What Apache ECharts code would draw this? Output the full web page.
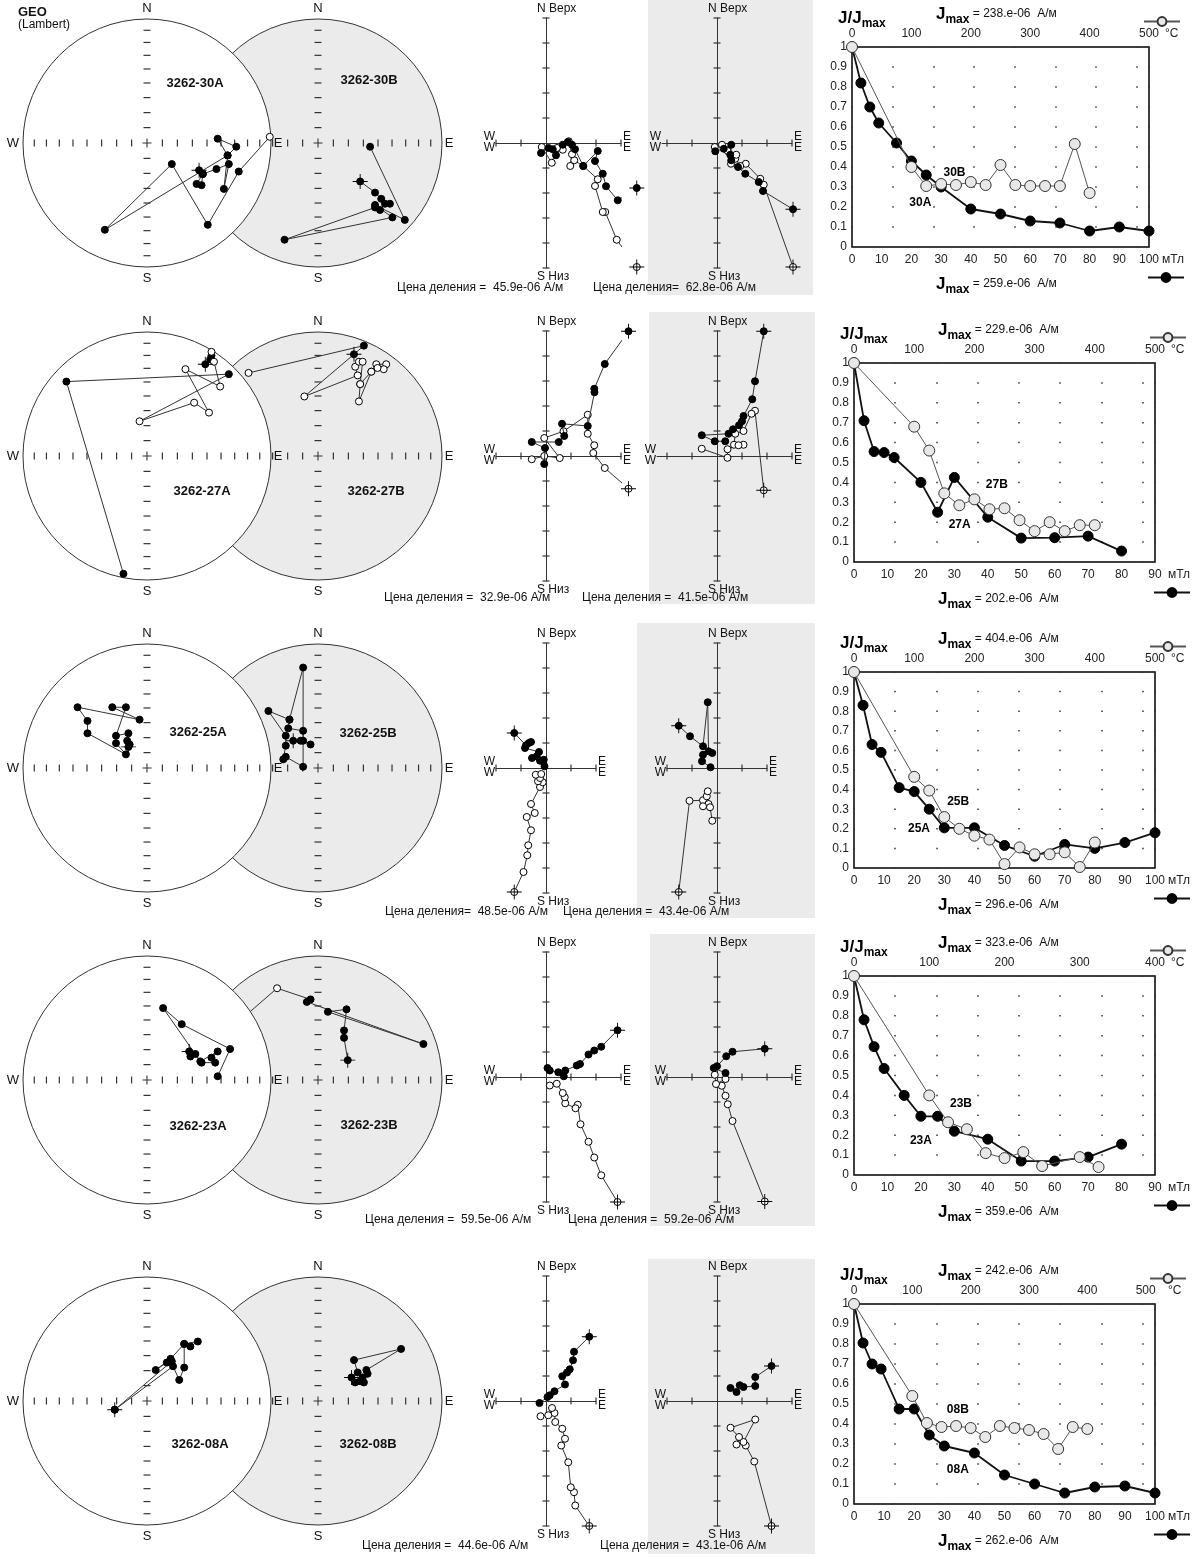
<!DOCTYPE html>
<html>
<head>
<meta charset="utf-8">
<script src="https://cdn.jsdelivr.net/npm/echarts@6/dist/echarts.min.js"></script>
<style>
  html, body { margin: 0; padding: 0; background: #fff; }
  #chart { width: 1192px; height: 1557px; }
</style>
</head>
<body>
<div id="chart"></div>
<script>
// ---------- стереограммы (GEO, Lambert): [x, y, верхняя полусфера, NRM] ----------
const st30A = [[0.42,-0.22,0,1],[0.45,-0.25,0],[0.40,-0.33,0],[0.44,-0.34,0],[0.45,-0.25,0],[0.56,-0.21,0],[0.66,-0.17,0],[0.62,-0.37,0],[0.65,-0.10,0],[0.72,-0.03,0],[0.57,0.035,0],[0.65,-0.10,0],[-0.34,-0.70,0],[0.20,-0.17,0],[0.49,-0.66,0],[0.74,-0.23,0],[0.99,0.05,1]];
const st30B = [[0.34,-0.31,0,1],[0.46,-0.40,0],[0.51,-0.45,0],[0.58,-0.49,0],[0.54,-0.49,0],[0.50,-0.54,0],[0.46,-0.52,0],[-0.27,-0.78,0],[0.60,-0.60,0],[0.46,-0.50,0],[0.70,-0.62,0],[0.42,-0.03,0]];
const st27A = [[0.47,0.74,0,1],[0.51,0.78,0],[0.52,0.81,0],[0.52,0.84,1],[0.54,0.76,1],[0.59,0.56,1],[0.31,0.70,1],[0.50,0.35,1],[0.38,0.43,1],[-0.06,0.28,1],[0.66,0.66,0],[-0.65,0.60,0],[-0.19,-0.95,0]];
const st27B = [[-0.56,0.67,1],[0.37,0.89,0],[0.29,0.82,0,1],[-0.11,0.48,1],[0.32,0.65,1],[0.30,0.72,1],[0.33,0.76,1],[0.36,0.76,1],[0.34,0.58,1],[0.43,0.68,1],[0.47,0.74,1],[0.55,0.74,1],[0.53,0.70,1],[0.48,0.71,1],[0.43,0.68,1],[0.33,0.44,1],[0.34,0.58,1]];
const st25A = [[-0.15,0.17,0,1],[-0.14,0.19,0],[-0.16,0.22,0],[-0.15,0.28,0],[-0.25,0.26,0],[-0.17,0.49,0],[-0.28,0.49,0],[-0.06,0.39,0],[-0.56,0.49,0],[-0.48,0.38,0],[-0.48,0.28,0],[-0.17,0.11,0],[-0.25,0.20,0]];
const st25B = [[-0.20,0.22,0,1],[-0.14,0.22,0],[-0.06,0.19,0],[-0.12,0.22,0],[-0.12,0.30,0],[-0.24,0.32,0],[-0.23,0.39,0],[-0.12,0.81,0],[-0.12,0.01,0],[-0.26,0.09,0],[-0.28,0.07,0],[-0.26,0.18,0],[-0.26,0.26,0],[-0.40,0.46,0],[-0.23,0.39,0]];
const st23A = [[0.34,0.23,0,1],[0.35,0.19,0],[0.39,0.21,0],[0.44,0.14,0],[0.55,0.14,0],[0.52,0.18,0],[0.57,0.23,0],[0.43,0.15,0],[0.13,0.58,0],[0.28,0.45,0],[0.67,0.25,0],[0.57,0.03,0]];
const st23B = [[0.24,0.16,0,1],[0.21,0.34,0],[0.21,0.40,0],[0.23,0.57,0],[0.08,0.55,0],[0.85,0.29,0],[-0.09,0.63,0],[-0.06,0.65,0],[-0.33,0.74,1],[-0.71,0.41,1]];
const st08A = [[-0.26,-0.07,0,1],[0.20,0.32,0],[0.16,0.31,0],[0.07,0.25,0],[0.19,0.34,0],[0.30,0.46,0],[0.35,0.44,0],[0.41,0.48,0],[0.30,0.46,0],[0.30,0.27,0],[0.26,0.17,0],[0.21,0.28,0],[-0.26,-0.07,0]];
const st08B = [[0.27,0.19,0,1],[0.30,0.15,0],[0.34,0.16,0],[0.37,0.15,0],[0.36,0.19,0],[0.32,0.23,0],[0.29,0.33,0],[0.67,0.42,0],[0.39,0.25,0],[0.40,0.22,0]];
const sampleNames = [['3262-30A','3262-30B'],['3262-27A','3262-27B'],['3262-25A','3262-25B'],['3262-23A','3262-23B'],['3262-08A','3262-08B']];
const lambertTicks = [0.124, 0.245, 0.366, 0.484, 0.597, 0.707, 0.811, 0.909];

// ---------- диаграммы Зийдервельда (в делениях шкалы); первая точка — NRM ----------
const zij30A_h = [[3.63,-1.8],[2.87,-2.29],[2.4,-1.73],[2.27,-1.23],[1.96,-0.72],[2.07,-0.32],[1.49,-0.92],[1.16,-0.25],[1.04,-0.07],[0.87,0.04],[0.67,-0.07],[0.4,-0.49],[0.27,-0.25],[0.1,-0.2],[-0.2,-0.4]];
const zij30A_v = [[3.63,-4.96],[2.83,-3.87],[2.37,-2.76],[2.27,-2.76],[1.96,-1.72],[2.07,-1.45],[1.49,-0.92],[1.13,-0.69],[0.97,-0.92],[1.04,-0.45],[0.91,0.07],[0.67,-0.27],[0.44,-0.2],[0.23,-0.79],[-0.17,-0.16]];
const zij30B_h = [[3.04,-2.65],[1.84,-1.92],[1.67,-1.56],[1.13,-1.23],[0.84,-0.96],[0.57,-0.69],[0.53,-0.47],[0.57,-0.07],[0.27,-0.23],[-0.07,-0.33]];
const zij30B_v = [[3.04,-4.96],[1.87,-1.67],[1.73,-1.43],[1.15,-0.83],[0.93,-0.92],[0.73,-0.63],[0.56,-0.83],[0.77,-0.47],[0.43,-0.32],[0.2,-0.07],[-0.09,-0.16]];
const zij27A_h = [[3.30,4.99],[2.35,3.68],[1.93,2.69],[1.94,2.55],[1.67,1.2],[0.64,1.29],[0.73,0.8],[0.51,0.56],[-0.57,0.56],[-0.04,0.32],[-0.07,-0.32]];
const zij27A_v = [[3.30,-1.31],[2.35,-0.48],[1.89,0.12],[1.93,0.43],[1.67,0.89],[1.67,1.65],[0.7,0.99],[-0.07,0.72],[0.55,-0.08],[-0.07,0],[-0.57,-0.13]];
const zij27B_h = [[1.87,4.99],[1.52,2.99],[1.41,2.27],[1.06,1.6],[1.0,1.39],[0.88,1.23],[0.64,1.07],[0.46,0.89],[-0.61,0.83],[-0.09,0.59],[0.33,0.59]];
const zij27B_v = [[1.87,-1.37],[1.52,1.81],[1.38,1.69],[1.06,1.0],[0.73,0.89],[0.68,0.45],[1.06,0.45],[0.86,0.43],[0.42,0.27],[0.42,-0.07],[-0.61,0.29]];
const zij25A_h = [[-1.27,1.4],[-0.80,0.91],[-0.69,1.0],[-0.6,1.04],[-0.84,0.8],[-0.28,0.64],[-0.56,0.4],[-0.37,0.47],[-0.24,0.29],[-0.09,0.33],[-0.06,0.07]];
const zij25A_v = [[-1.27,-4.96],[-0.9,-4.16],[-0.75,-3.49],[-0.71,-3.09],[-0.6,-2.49],[-0.77,-1.96],[-0.45,-1.8],[-0.6,-1.44],[-0.24,-0.76],[-0.13,-0.57],[-0.32,-0.53],[-0.24,-0.4],[-0.41,-0.27],[-0.19,-0.24]];
const zij25B_h = [[-1.53,1.69],[-1.08,1.27],[-0.56,0.87],[-0.37,2.63],[-0.34,0.67],[-0.19,0.6],[-0.56,0.53],[-0.6,0.27],[-0.26,0.03]];
const zij25B_v = [[-1.53,-4.96],[-1.10,-1.31],[-0.56,-1.29],[-0.41,-1.13],[-0.37,-0.93],[-0.34,-1.44],[-0.56,-1.53],[-0.28,-1.57],[-0.19,-2.11]];
const zij23A_h = [[2.86,1.87],[2.21,1.21],[1.93,1.06],[1.70,0.90],[1.36,0.52],[1.23,0.46],[0.77,0.26],[0.71,0.03],[0.49,0.19],[0.15,0.26],[0.06,0.36]];
const zij23A_v = [[2.86,-5.0],[2.21,-3.93],[1.93,-3.22],[1.70,-2.59],[1.38,-1.89],[1.27,-1.11],[1.18,-1.25],[0.77,-1.05],[0.75,-0.81],[0.67,-0.64],[0.43,-0.27],[0.15,-0.34]];
const zij23B_h = [[1.91,1.13],[0.62,1.01],[0.37,0.83],[0.0,0.43],[-0.13,0.36],[0.34,0.16]];
const zij23B_v = [[1.91,-4.98],[0.62,-1.76],[0.43,-1.09],[0.34,-0.75],[0.19,-0.35],[0.34,-0.08],[-0.04,-0.28],[-0.09,0.09]];
const zij08A_h = [[1.73,2.57],[1.12,1.97],[1.08,1.63],[0.95,1.27],[0.84,1.14],[0.65,0.99],[0.76,0.66],[0.34,0.39],[0.15,0.23],[0.06,0.16],[-0.26,-0.08]];
const zij08A_v = [[1.73,-5.0],[1.17,-4.18],[1.12,-3.65],[0.99,-3.45],[0.89,-2.45],[0.61,-1.78],[0.76,-1.51],[0.65,-1.11],[0.37,-0.84],[0.34,-0.48],[0.24,-0.28],[0.09,-0.57],[-0.22,-0.61]];
const zij08B_h = [[2.18,1.40],[1.53,0.96],[1.53,0.60],[1.06,0.56],[0.91,0.63],[0.78,0.36],[0.54,0.52]];
const zij08B_v = [[2.18,-5.0],[1.49,-2.42],[1.15,-1.78],[1.06,-1.64],[1.53,-0.74],[0.54,-1.07],[0.88,-1.44],[0.78,-1.74]];
const zijDivs = [-5, -4, -3, -2, -1, 1, 2, 3, 4, 5];
const scaleTexts = [
  ['Цена деления =  45.9e-06 А/м', 'Цена деления=  62.8e-06 А/м'],
  ['Цена деления =  32.9e-06 А/м', 'Цена деления =  41.5e-06 А/м'],
  ['Цена деления=  48.5e-06 А/м', 'Цена деления =  43.4e-06 А/м'],
  ['Цена деления =  59.5e-06 А/м', 'Цена деления =  59.2e-06 А/м'],
  ['Цена деления =  44.6e-06 А/м', 'Цена деления =  43.1e-06 А/м']
];

// ---------- кривые размагничивания ----------
const af30 = [0, 3, 6, 9, 15, 20, 25, 30, 40, 50, 60, 70, 80, 90, 100];
const j30A = [1, 0.82, 0.70, 0.62, 0.52, 0.43, 0.36, 0.30, 0.19, 0.165, 0.13, 0.12, 0.08, 0.10, 0.08];
const t30 = [0, 100, 125, 150, 175, 200, 225, 250, 275, 300, 325, 350, 375, 400];
const j30B = [1, 0.40, 0.305, 0.315, 0.31, 0.325, 0.31, 0.41, 0.31, 0.305, 0.305, 0.305, 0.515, 0.27];
const af27 = [0, 3, 6, 9, 12, 20, 25, 30, 40, 50, 60, 70, 80];
const j27A = [1, 0.71, 0.555, 0.55, 0.525, 0.40, 0.25, 0.425, 0.225, 0.12, 0.122, 0.13, 0.055];
const t27 = [0, 100, 125, 150, 175, 200, 225, 250, 275, 300, 325, 350, 375, 400];
const j27B = [1, 0.68, 0.56, 0.345, 0.285, 0.315, 0.265, 0.27, 0.21, 0.155, 0.20, 0.155, 0.185, 0.185];
const af25 = [0, 3, 6, 9, 15, 20, 25, 30, 40, 50, 60, 70, 80, 90, 100];
const j25A = [1, 0.83, 0.63, 0.59, 0.41, 0.39, 0.30, 0.205, 0.205, 0.115, 0.06, 0.12, 0.10, 0.13, 0.18];
const t25 = [0, 100, 125, 150, 175, 200, 225, 250, 275, 300, 325, 350, 375, 400];
const j25B = [1, 0.465, 0.395, 0.26, 0.20, 0.165, 0.145, 0.02, 0.105, 0.07, 0.07, 0.08, 0.005, 0.13];
const af23 = [0, 3, 6, 9, 15, 20, 25, 30, 40, 50, 60, 70, 80];
const j23A = [1, 0.78, 0.645, 0.535, 0.40, 0.295, 0.295, 0.22, 0.18, 0.07, 0.07, 0.09, 0.155];
const t23 = [0, 100, 125, 150, 175, 200, 225, 250, 300, 325];
const j23B = [1, 0.40, 0.265, 0.23, 0.11, 0.085, 0.115, 0.045, 0.09, 0.04];
const af08 = [0, 3, 6, 9, 15, 20, 25, 30, 40, 50, 60, 70, 80, 90, 100];
const j08A = [1, 0.805, 0.70, 0.675, 0.475, 0.475, 0.345, 0.29, 0.255, 0.145, 0.10, 0.055, 0.085, 0.09, 0.055];
const t08 = [0, 100, 125, 150, 175, 200, 225, 250, 275, 300, 325, 350, 375, 400];
const j08B = [1, 0.54, 0.405, 0.385, 0.39, 0.38, 0.335, 0.39, 0.38, 0.37, 0.35, 0.275, 0.385, 0.375];
const afMax = [100, 90, 100, 90, 100];
const tMax = [500, 500, 500, 400, 516];
const jmaxTop = ['238.e-06', '229.e-06', '404.e-06', '323.e-06', '242.e-06'];
const jmaxBottom = ['259.e-06', '202.e-06', '296.e-06', '359.e-06', '262.e-06'];
const curveTags = [['30B', '30A'], ['27B', '27A'], ['25B', '25A'], ['23B', '23A'], ['08B', '08A']];

const rows = [
  { st: [st30A, st30B], zh: [zij30A_h, zij30B_h], zv: [zij30A_v, zij30B_v], af: af30, ja: j30A, t: t30, jb: j30B },
  { st: [st27A, st27B], zh: [zij27A_h, zij27B_h], zv: [zij27A_v, zij27B_v], af: af27, ja: j27A, t: t27, jb: j27B },
  { st: [st25A, st25B], zh: [zij25A_h, zij25B_h], zv: [zij25A_v, zij25B_v], af: af25, ja: j25A, t: t25, jb: j25B },
  { st: [st23A, st23B], zh: [zij23A_h, zij23B_h], zv: [zij23A_v, zij23B_v], af: af23, ja: j23A, t: t23, jb: j23B },
  { st: [st08A, st08B], zh: [zij08A_h, zij08B_h], zv: [zij08A_v, zij08B_v], af: af08, ja: j08A, t: t08, jb: j08B }
];

// ---------- раскладка ----------
const FONT = '"Liberation Sans", Arial, Helvetica, sans-serif';
const R = 124;
const circleX = [147, 318];
const rowY = [143, 456, 768, 1080, 1401];
const nameOffset = [[[48,-60],[51,-63]], [[55,35],[58,35]], [[51,-36],[50,-35]], [[51,46],[51,45]], [[53,43],[50,43]]];
const zijX = [546, 717];
const zijY = [143, 456, 768, 1077, 1401];
const zijRange = [[[-2,3],[-2.2,3]], [[-2,3],[-2.4,3]], [[-2,2],[-2,2]], [[-2,3],[-2,3]], [[-2,2],[-2,3]]];
const UNIT = 25;
const greyBox = [[648,0,813,295], [649,312,815,604], [637,623,815,918], [650,934,815,1226], [648,1259,815,1554]];
const scalePos = [[[397,288],[593,288]], [[384,598],[582,598]], [[385,912],[563,912]], [[365,1220],[568,1220]], [[362,1546],[600,1546]]];
const boxLeft = [852, 854, 854, 854, 854];
const boxWidth = [297, 301, 301, 301, 301];
const boxTop = [47, 363, 672, 976, 1304];
const boxH = [200, 199, 196, 199, 200];
const tagAt = [[[34.5,0.37],[23,0.22]], [[42.7,0.39],[31.6,0.19]], [[34.6,0.34],[21.6,0.20]], [[32,0.36],[20,0.17]], [[34.5,0.47],[34.5,0.17]]];

const PLUS = 'path://M0,4.4H10V5.6H0Z M4.4,0H5.6V10H4.4Z';
const CROSS = 'path://M0,9.4H20V10.6H0Z M9.4,0H10.6V20H9.4Z';

const grid = [], xAxis = [], yAxis = [], series = [], graphic = [], legend = [];

function text(x, y, str, extra) {
  graphic.push({
    type: 'text', x: x, y: y, z: 100, silent: true,
    style: Object.assign({ text: str, fill: '#111', fontSize: 13, fontFamily: FONT, align: 'center', verticalAlign: 'middle' }, extra || {})
  });
}

function addGrid(g, xa, ya) {
  const gi = grid.length;
  grid.push(g);
  xAxis.push(Object.assign({ gridIndex: gi, type: 'value' }, xa));
  yAxis.push(Object.assign({ gridIndex: gi, type: 'value' }, ya));
  return { xi: xAxis.length - 1, yi: yAxis.length - 1, gi: gi };
}

function stereonet(r, k) {
  const cx = circleX[k], cy = rowY[r];
  const hid = { min: -1, max: 1, show: false };
  const ax = addGrid({ left: cx - R, top: cy - R, width: 2 * R, height: 2 * R }, hid, hid);
  const z0 = k === 0 ? 10 : 1;
  const base = { xAxisIndex: ax.xi, yAxisIndex: ax.yi, silent: true, clip: false };
  series.push(Object.assign({ type: 'scatter', z: z0, data: [[0, 0]], symbol: 'circle', symbolSize: 2 * R,
    itemStyle: { color: k === 0 ? '#fff' : '#ebebeb', borderColor: '#333', borderWidth: 1, opacity: 1 } }, base));
  const th = [], tv = [];
  lambertTicks.forEach(function (t) { th.push([t, 0], [-t, 0]); tv.push([0, t], [0, -t]); });
  series.push(Object.assign({ type: 'scatter', z: z0 + 1, data: th, symbol: 'rect', symbolSize: [1.2, 7], itemStyle: { color: '#333', opacity: 1 } }, base));
  series.push(Object.assign({ type: 'scatter', z: z0 + 1, data: tv, symbol: 'rect', symbolSize: [7, 1.2], itemStyle: { color: '#333', opacity: 1 } }, base));
  series.push(Object.assign({ type: 'scatter', z: z0 + 1, data: [[0, 0]], symbol: PLUS, symbolSize: 9, itemStyle: { color: '#333', opacity: 1 } }, base));
  const pts = rows[r].st[k];
  series.push(Object.assign({ type: 'line', z: z0 + 2, symbol: 'circle', symbolSize: 7, showAllSymbol: true,
    lineStyle: { color: '#333', width: 1 }, itemStyle: { color: '#000', borderColor: '#000', borderWidth: 1 },
    data: pts.map(function (p) { return { value: [p[0], p[1]], itemStyle: { color: p[2] ? '#fff' : '#000' } }; }) }, base));
  series.push(Object.assign({ type: 'scatter', z: z0 + 3, symbol: CROSS, symbolSize: 15, itemStyle: { color: '#000', opacity: 1 },
    data: pts.filter(function (p) { return p[3]; }).map(function (p) { return [p[0], p[1]]; }) }, base));
  text(cx, cy - R - 11, 'N');
  text(cx, cy + R + 11, 'S');
  if (k === 0) text(cx - R - 10, cy, 'W');
  text(cx + R + 7, cy, 'E');
  const off = nameOffset[r][k];
  text(cx + off[0], cy + off[1], sampleNames[r][k], { fontWeight: 'bold', fontSize: 13 });
}

function zijderveld(r, k) {
  const ox = zijX[k], oy = zijY[r];
  const xr = zijRange[r][k];
  const line = { onZero: true, lineStyle: { color: '#333', width: 1 } };
  const ax = addGrid({ left: ox + xr[0] * UNIT, top: oy - 5 * UNIT, width: (xr[1] - xr[0]) * UNIT, height: 10 * UNIT },
    { min: xr[0], max: xr[1], axisLine: line, axisTick: { show: false }, axisLabel: { show: false }, splitLine: { show: false } },
    { min: -5, max: 5, axisLine: line, axisTick: { show: false }, axisLabel: { show: false }, splitLine: { show: false } });
  const base = { xAxisIndex: ax.xi, yAxisIndex: ax.yi, silent: true, clip: false };
  series.push(Object.assign({ type: 'scatter', z: 2, symbol: 'rect', symbolSize: [1.2, 7], itemStyle: { color: '#333', opacity: 1 },
    data: zijDivs.filter(function (v) { return v >= xr[0] && v <= xr[1]; }).map(function (v) { return [v, 0]; }) }, base));
  series.push(Object.assign({ type: 'scatter', z: 2, symbol: 'rect', symbolSize: [7, 1.2], itemStyle: { color: '#333', opacity: 1 },
    data: zijDivs.map(function (v) { return [0, v]; }) }, base));
  [[rows[r].zv[k], '#fff'], [rows[r].zh[k], '#000']].forEach(function (s, i) {
    series.push(Object.assign({ type: 'line', z: 3 + i, data: s[0], symbol: 'circle', symbolSize: 7, showAllSymbol: true,
      lineStyle: { color: '#333', width: 1 }, itemStyle: { color: s[1], borderColor: '#000', borderWidth: 1 } }, base));
    series.push(Object.assign({ type: 'scatter', z: 5, data: [s[0][0]], symbol: CROSS, symbolSize: 15, itemStyle: { color: '#000', opacity: 1 } }, base));
  });
  const left = ox + xr[0] * UNIT, right = ox + xr[1] * UNIT;
  const fs = { fontSize: 12 };
  text(ox - 9, oy - 5 * UNIT - 9, 'N Верх', { align: 'left', fontSize: 12 });
  text(ox - 9, oy + 5 * UNIT + 9, 'S Низ', { align: 'left', fontSize: 12 });
  text(left - 1, oy - 6, 'W', Object.assign({ align: 'right' }, fs));
  text(left - 1, oy + 5, 'W', Object.assign({ align: 'right' }, fs));
  text(right + 2, oy - 6, 'E', Object.assign({ align: 'left' }, fs));
  text(right + 2, oy + 5, 'E', Object.assign({ align: 'left' }, fs));
  text(scalePos[r][k][0], scalePos[r][k][1], scaleTexts[r][k], { align: 'left', fontSize: 12 });
}

function jmaxRich(x, y, label, value) {
  graphic.push({
    type: 'text', x: x, y: y, z: 100, silent: true,
    style: {
      text: '{J|' + label + '}{m|max}{v|' + (value ? ' = ' + value + '  А/м' : '') + '}',
      verticalAlign: 'middle', align: 'left',
      rich: {
        J: { fontSize: 17, fontWeight: 'bold', fontFamily: FONT, fill: '#000' },
        m: { fontSize: 12, fontWeight: 'bold', fontFamily: FONT, fill: '#000', padding: [11, 0, 0, 0] },
        v: { fontSize: 12, fontFamily: FONT, fill: '#111' }
      }
    }
  });
}

function demag(r) {
  const L = boxLeft[r], W = boxWidth[r], T = boxTop[r], H = boxH[r];
  const gi = grid.length;
  grid.push({ left: L, top: T, width: W, height: H, show: true, backgroundColor: '#fff', borderColor: '#000', borderWidth: 1.5 });
  const lab = { fontSize: 12, color: '#222', fontFamily: FONT };
  xAxis.push({ gridIndex: gi, type: 'value', position: 'bottom', min: 0, max: afMax[r], interval: 10,
    axisLine: { show: false }, axisTick: { show: false }, splitLine: { show: false },
    axisLabel: Object.assign({ margin: 7 }, lab) });
  const afIdx = xAxis.length - 1;
  xAxis.push({ gridIndex: gi, type: 'value', position: 'top', min: 0, max: tMax[r], interval: 100,
    axisLine: { show: false }, axisTick: { show: false }, splitLine: { show: false },
    axisLabel: Object.assign({ margin: 7, showMaxLabel: tMax[r] % 100 === 0 }, lab) });
  const tIdx = xAxis.length - 1;
  const step = H / 10;
  xAxis.push({ gridIndex: gi, type: 'value', position: 'bottom', min: 0, max: 7.3, interval: 1,
    axisLine: { show: false }, axisTick: { show: false }, axisLabel: { show: false },
    splitLine: { show: true, lineStyle: { color: '#333', width: 1.5, type: [1.5, step - 1.5], dashOffset: 0.75 } } });
  const dotIdx = xAxis.length - 1;
  yAxis.push({ gridIndex: gi, type: 'value', min: 0, max: 1, interval: 0.1,
    axisLine: { show: false }, axisTick: { show: false }, splitLine: { show: false },
    axisLabel: Object.assign({ margin: 5 }, lab) });
  const yi = yAxis.length - 1;
  series.push({ type: 'scatter', xAxisIndex: dotIdx, yAxisIndex: yi, data: [], silent: true });
  const d = rows[r];
  series.push({ type: 'line', name: 'AF' + r, xAxisIndex: afIdx, yAxisIndex: yi, z: 5, clip: false, silent: true,
    data: d.af.map(function (v, i) { return [v, d.ja[i]]; }),
    symbol: 'circle', symbolSize: 10, showAllSymbol: true,
    lineStyle: { color: '#111', width: 1.8 }, itemStyle: { color: '#000', borderColor: '#000', borderWidth: 1 } });
  series.push({ type: 'line', name: 'T' + r, xAxisIndex: tIdx, yAxisIndex: yi, z: 6, clip: false, silent: true,
    data: d.t.map(function (v, i) { return [v, d.jb[i]]; }),
    symbol: 'circle', symbolSize: 11, showAllSymbol: true,
    lineStyle: { color: '#555', width: 1 }, itemStyle: { color: '#e8e8e8', borderColor: '#333', borderWidth: 1 } });
  series.push({ type: 'scatter', xAxisIndex: afIdx, yAxisIndex: yi, z: 7, silent: true, symbolSize: 0,
    itemStyle: { opacity: 1 },
    data: tagAt[r].map(function (p, i) { return { value: p, label: { formatter: curveTags[r][i] } }; }),
    label: { show: true, position: 'inside', fontSize: 12, fontWeight: 'bold', color: '#000', fontFamily: FONT } });
  // units after the last tick labels
  text(L + W + 13, T + H + 13, 'мТл', { align: 'left', fontSize: 12, fill: '#222' });
  text(L + W + (tMax[r] % 100 === 0 ? 16 : 13), T - 13, '°C', { align: 'left', fontSize: 12, fill: '#222' });
  jmaxRich(L - 14, T - 29, 'J/J', '');
  jmaxRich(L + 84, T - 33, 'J', jmaxTop[r]);
  jmaxRich(L + 84, T + H + 37, 'J', jmaxBottom[r]);
  const lg = { itemWidth: 36, itemHeight: 11, itemGap: 0, padding: 0, selectedMode: false,
    formatter: function () { return ''; }, textStyle: { fontSize: 1 } };
  legend.push(Object.assign({ data: ['T' + r], left: L + W - 6, top: T - 31 }, lg));
  legend.push(Object.assign({ data: ['AF' + r], left: L + W - 2, top: T + H + 25 }, lg));
}

for (let r = 0; r < 5; r++) {
  const g = greyBox[r];
  graphic.push({ type: 'rect', z: -10, silent: true, shape: { x: g[0], y: g[1], width: g[2] - g[0], height: g[3] - g[1] }, style: { fill: '#ebebeb' } });
  stereonet(r, 1);
  stereonet(r, 0);
  zijderveld(r, 0);
  zijderveld(r, 1);
  demag(r);
}
text(18, 12, 'GEO', { align: 'left', fontWeight: 'bold', fontSize: 13 });
text(18, 25, '(Lambert)', { align: 'left', fontSize: 12 });

const chart = echarts.init(document.getElementById('chart'), null, { renderer: 'canvas' });
chart.setOption({
  animation: false,
  backgroundColor: '#fff',
  textStyle: { fontFamily: FONT },
  grid: grid,
  xAxis: xAxis,
  yAxis: yAxis,
  legend: legend,
  series: series,
  graphic: graphic
});
</script>
</body>
</html>
